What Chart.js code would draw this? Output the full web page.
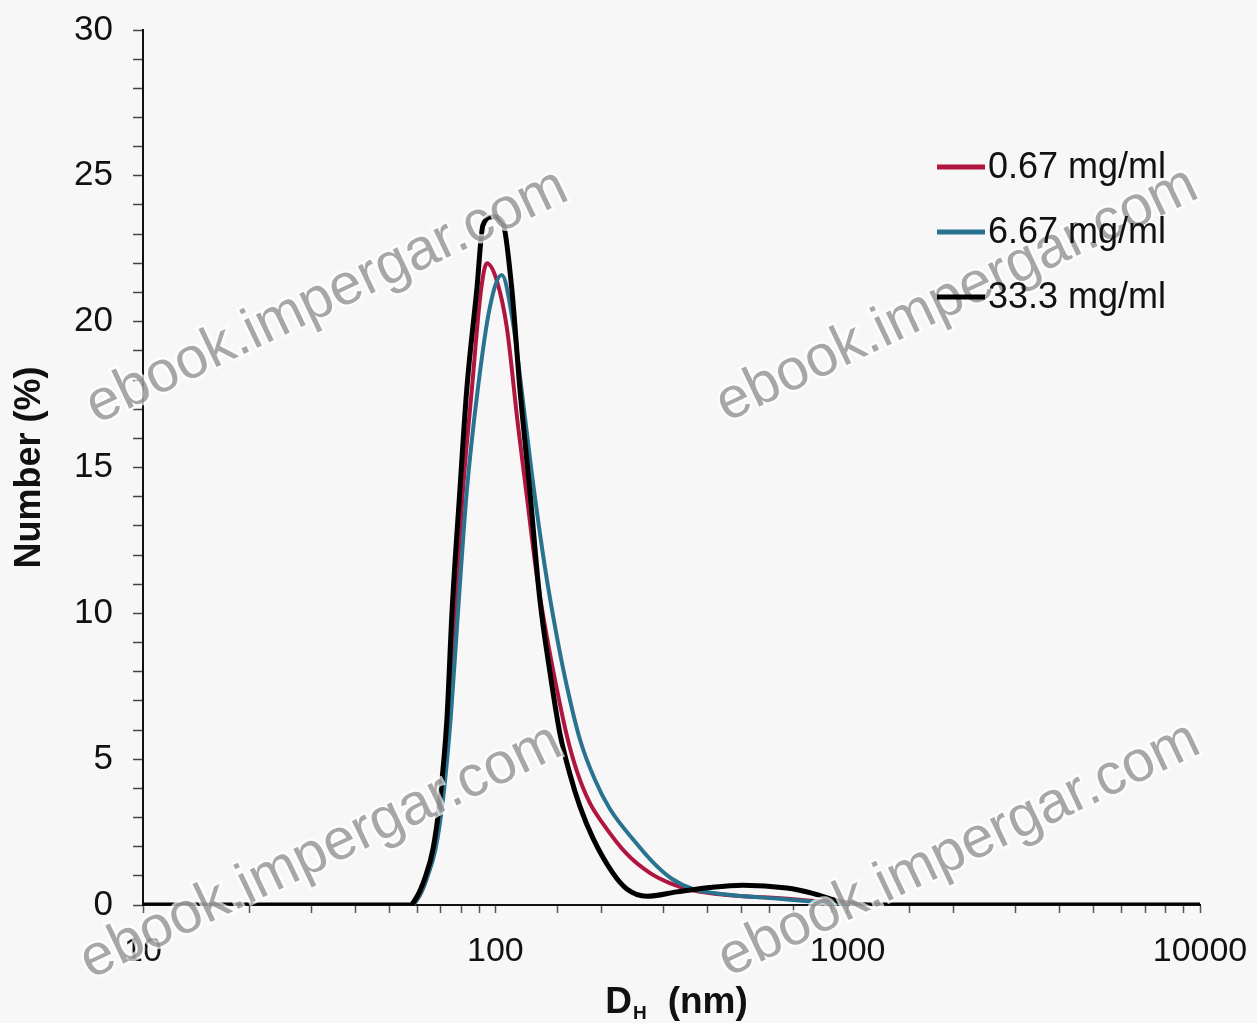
<!DOCTYPE html>
<html>
<head>
<meta charset="utf-8">
<script src="https://cdn.jsdelivr.net/npm/chart.js@4.4.1/dist/chart.umd.min.js"></script>
<style>
  html, body { margin: 0; padding: 0; background: #f7f7f7; }
  #wrap { width: 1257px; height: 1023px; }
</style>
</head>
<body>
<div id="wrap"><canvas id="dlsChart" width="1257" height="1023"></canvas></div>
<script>
// series labels
const seriesLabels = ['0.67 mg/ml', '6.67 mg/ml', '33.3 mg/ml'];
const seriesColors = ['#b0153f', '#2a7390', '#000000'];

// hydrodynamic diameter (nm) and number (%)
const dh067  = [10, 58.0, 60.8, 63.8, 67.2, 70.5, 73.8, 76.8, 80.9, 85.8, 90.9, 94.6, 101.0, 107.8, 115.8, 122.9, 131.1, 140.0, 149.5, 159.6, 170.3, 185.4, 201.8, 236.1, 274.4, 312.6, 363.4, 453.6, 628.8, 871.8, 1081, 10000];
const num067 = [0, 0, 0.3, 0.9, 1.9, 3.6, 6.5, 10.0, 14.2, 17.7, 21.0, 22.0, 21.4, 19.8, 16.5, 14.0, 11.3, 9.2, 7.4, 5.8, 4.6, 3.5, 2.8, 1.75, 1.1, 0.75, 0.5, 0.34, 0.24, 0.1, 0, 0];

const dh667  = [10, 58.0, 60.8, 63.8, 67.6, 71.0, 74.8, 78.3, 83.0, 89.2, 96.5, 104.3, 112.1, 118.9, 126.9, 138.2, 149.5, 159.6, 173.6, 191.6, 211.3, 252.0, 283.5, 316.7, 363.4, 453.6, 628.8, 871.8, 1081, 10000];
const num667 = [0, 0, 0.3, 0.9, 1.9, 3.6, 6.5, 10.0, 14.2, 17.7, 20.5, 21.6, 20.0, 17.6, 14.8, 11.6, 9.2, 7.5, 5.7, 4.3, 3.3, 2.1, 1.4, 0.9, 0.55, 0.36, 0.22, 0.08, 0, 0];

const dh333  = [10, 57.2, 60.0, 63.0, 66.5, 69.6, 72.9, 75.3, 79.3, 83.0, 88.6, 92.2, 98.4, 105.0, 111.4, 117.4, 125.3, 133.7, 142.8, 152.4, 162.7, 173.6, 189.1, 215.4, 236.1, 269.1, 327.3, 406.1, 503.7, 671.4, 795.7, 967.8, 1209, 10000];
const num333 = [0, 0, 0.3, 0.9, 1.9, 3.6, 6.4, 10.0, 14.2, 17.7, 21.1, 23.3, 23.6, 23.4, 21.1, 17.7, 14.2, 10.5, 8.0, 5.9, 4.5, 3.4, 2.3, 1.1, 0.55, 0.3, 0.45, 0.6, 0.68, 0.58, 0.4, 0.1, 0, 0];

// tick labels
const xTickLabels = [10, 100, 1000, 10000];
const yTickLabels = [0, 5, 10, 15, 20, 25, 30];

const watermark = 'ebook.impergar.com';

function pts(xs, ys) {
  return xs.map((x, i) => ({ x: x, y: ys[i] }));
}

const fontFam = '"Liberation Sans", Arial, Helvetica, sans-serif';

// legend, x title and watermark drawn on the canvas
const decorPlugin = {
  id: 'decor',
  afterDatasetsDraw(chart) {
    const ctx = chart.ctx;
    const a = chart.chartArea;
    // watermarks
    const spots = [[a.left + 184, a.top + 267], [a.left + 814, a.top + 265],
                   [a.left + 178, a.top + 822], [a.left + 816, a.top + 820]];
    ctx.save();
    ctx.font = '58px ' + fontFam;
    ctx.textAlign = 'center';
    ctx.textBaseline = 'middle';
    spots.forEach(p => {
      ctx.save();
      ctx.translate(p[0], p[1]);
      ctx.rotate(-25.4 * Math.PI / 180);
      ctx.lineWidth = 5;
      ctx.strokeStyle = 'rgba(255,255,255,0.7)';
      ctx.strokeText(watermark, 0, 0);
      ctx.fillStyle = 'rgba(125,125,125,0.68)';
      ctx.fillText(watermark, 0, 0);
      ctx.restore();
    });
    ctx.restore();
  },
  afterDraw(chart) {
    const ctx = chart.ctx;
    const a = chart.chartArea;
    // legend inside the plot, top right
    ctx.save();
    ctx.font = '36px ' + fontFam;
    ctx.textBaseline = 'middle';
    ctx.textAlign = 'left';
    const lx = a.right - 263, ly = a.top + 137;
    chart.data.datasets.forEach((ds, i) => {
      const y = ly + i * 65;
      ctx.strokeStyle = ds.borderColor;
      ctx.lineWidth = 5;
      ctx.beginPath();
      ctx.moveTo(lx, y);
      ctx.lineTo(lx + 48, y);
      ctx.stroke();
      ctx.fillStyle = '#111';
      ctx.fillText(ds.label, lx + 51, y + 1);
    });
    // x axis title with subscript
    const cx = (a.left + a.right) / 2 + 5;
    const ty = 1000;
    ctx.font = 'bold 37px ' + fontFam;
    const wD = ctx.measureText('D').width;
    const wP = ctx.measureText('(nm)').width;
    ctx.font = 'bold 19px ' + fontFam;
    const wH = ctx.measureText('H').width;
    const gap = 22;
    let x0 = cx - (wD + wH + gap + wP) / 2;
    ctx.fillStyle = '#111';
    ctx.textBaseline = 'alphabetic';
    ctx.font = 'bold 37px ' + fontFam;
    ctx.fillText('D', x0, ty + 13);
    ctx.font = 'bold 19px ' + fontFam;
    ctx.fillText('H', x0 + wD + 1, ty + 19);
    ctx.font = 'bold 37px ' + fontFam;
    ctx.fillText('(nm)', x0 + wD + wH + gap, ty + 13);
    ctx.restore();
  }
};

const ctxDls = document.getElementById('dlsChart');
const dlsChart = new Chart(ctxDls, {
  type: 'scatter',
  data: {
    datasets: [
      { label: seriesLabels[0], data: pts(dh067, num067), borderColor: seriesColors[0], borderWidth: 4, order: 2 },
      { label: seriesLabels[1], data: pts(dh667, num667), borderColor: seriesColors[1], borderWidth: 4, order: 1 },
      { label: seriesLabels[2], data: pts(dh333, num333), borderColor: seriesColors[2], borderWidth: 5, order: 0 }
    ]
  },
  options: {
    responsive: false,
    animation: false,
    devicePixelRatio: 1,
    showLine: true,
    elements: {
      point: { radius: 0, hoverRadius: 0 },
      line: { cubicInterpolationMode: 'monotone', fill: false, borderCapStyle: 'round', borderJoinStyle: 'round' }
    },
    layout: { padding: { top: 30, right: 57, left: 0, bottom: 0 } },
    plugins: {
      legend: { display: false },
      tooltip: { enabled: false }
    },
    scales: {
      x: {
        type: 'logarithmic',
        min: 10,
        max: 10000,
        afterFit: s => { s.height = 118; s.paddingLeft = 0; s.paddingRight = 0; },
        border: { display: true, color: '#111', width: 2 },
        grid: { drawOnChartArea: false, drawTicks: true, tickLength: 8, color: '#555', tickWidth: 1.5 },
        ticks: {
          autoSkip: false,
          maxRotation: 0,
          padding: 18,
          color: '#111',
          font: { family: fontFam, size: 34 },
          callback: v => xTickLabels.includes(v) ? String(v) : ''
        },
        title: { display: false }
      },
      y: {
        min: 0,
        max: 30,
        afterFit: s => { s.width = 143; s.paddingTop = 0; s.paddingBottom = 0; },
        border: { display: true, color: '#111', width: 2 },
        grid: { drawOnChartArea: false, drawTicks: true, tickLength: 10, color: '#444', tickWidth: 1.5 },
        ticks: {
          stepSize: 1,
          autoSkip: false,
          padding: 20,
          color: '#111',
          font: { family: fontFam, size: 35 },
          callback: v => yTickLabels.includes(v) ? String(v) : ''
        },
        title: {
          display: true,
          text: 'Number (%)',
          color: '#111',
          font: { family: fontFam, size: 36, weight: 'bold' },
          padding: { top: 8, bottom: 0 }
        }
      }
    }
  },
  plugins: [decorPlugin]
});
</script>
</body>
</html>
